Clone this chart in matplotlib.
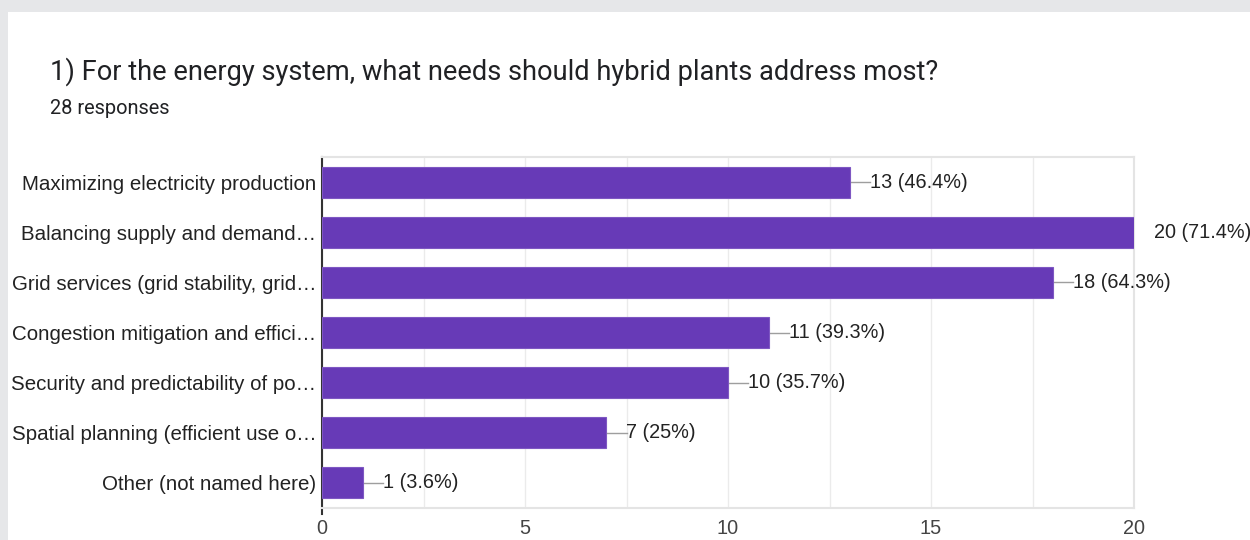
import matplotlib.pyplot as plt
import matplotlib.patches as mpatches

# survey answers, top to bottom
labels = [
    "Maximizing electricity production",
    "Balancing supply and demand\u2026",
    "Grid services (grid stability, grid\u2026",
    "Congestion mitigation and effici\u2026",
    "Security and predictability of po\u2026",
    "Spatial planning (efficient use o\u2026",
    "Other (not named here)",
]
counts = [13, 20, 18, 11, 10, 7, 1]
percents = ["46.4%", "71.4%", "64.3%", "39.3%", "35.7%", "25%", "3.6%"]
xticks = [0, 5, 10, 15, 20]

W, H = 1250, 540
fig = plt.figure(figsize=(12.5, 5.4), dpi=100)
fig.patch.set_facecolor('#e6e7e9')

# white card behind everything
bg = fig.add_axes([0, 0, 1, 1], zorder=-10)
bg.set_xlim(0, W)
bg.set_ylim(H, 0)
bg.axis('off')
bg.add_patch(mpatches.Rectangle((8, 12), W, H, facecolor='white', edgecolor='none'))

fig.text(50 / W, 1 - 72 / H, "1) For the energy system, what needs should hybrid plants address most?",
         family='Roboto', fontsize=19.6, color='#202124', va='center')
fig.text(50 / W, 1 - 108 / H, "28 responses", family='Roboto', fontsize=14.4,
         color='#202124', va='center')

ax = fig.add_axes([322 / W, 1 - 508 / H, 812 / W, 351 / H])
ax.set_facecolor('white')
ypos = list(range(len(labels)))
ax.barh(ypos, counts, height=0.62, color='#673ab7', edgecolor='#7e57c2', linewidth=0.8, zorder=3)

for y, c, p in zip(ypos, counts, percents):
    ax.plot([c, c + 0.5], [y, y], color='#9e9e9e', lw=1, zorder=2, clip_on=True)
    ax.text(c + 0.5, y, f"{c} ({p})", va='center', ha='left', family='Liberation Sans',
            fontsize=14.3, color='#222222', clip_on=False, zorder=4)

ax.set_xlim(0, 20)
ax.set_ylim(len(labels) - 0.5, -0.5)
ax.set_xticks(xticks)
ax.set_xticks([2.5, 7.5, 12.5, 17.5], minor=True)
ax.grid(True, axis='x', which='both', color='#ebebeb', lw=1, zorder=0)
ax.set_yticks(ypos)
ax.set_yticklabels(labels, family='Liberation Sans', fontsize=14.8, color='#222222')
ax.tick_params(axis='y', length=0, pad=4)
ax.tick_params(axis='x', which='both', length=0, pad=15, labelsize=14.3, labelcolor='#444444')
for lab in ax.get_xticklabels():
    lab.set_family('Liberation Sans')
    lab.set_va('center')

for side in ['top', 'right', 'bottom']:
    ax.spines[side].set_color('#e4e4e4')
    ax.spines[side].set_linewidth(1.5)
ax.spines['left'].set_color('#333333')
ax.spines['left'].set_linewidth(1.5)
ax.spines['left'].set_bounds(len(labels) - 0.5 + 0.12, -0.5)

fig.savefig('out.png', dpi=100, facecolor=fig.get_facecolor())
